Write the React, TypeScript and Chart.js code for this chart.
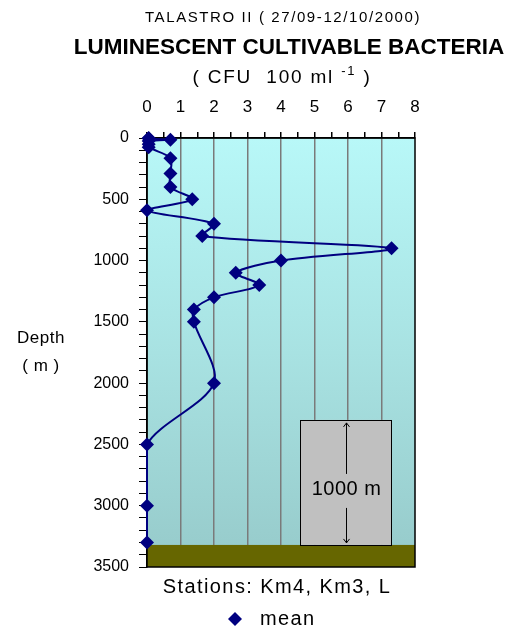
import React, { useEffect, useRef } from "react";
import { Chart, registerables } from "chart.js";

Chart.register(...registerables);

// ---- data ----
const depths = [0, 5, 15, 25, 50, 75, 165, 290, 400, 500, 590, 700, 800, 900, 1000, 1100, 1200, 1300, 1400, 1500, 2000, 2500, 3000, 3300];
const meanValues = [0.05, 0.05, 0.7, 0.05, 0.05, 0.05, 0.7, 0.7, 0.7, 1.35, 0, 2.0, 1.65, 7.3, 4.0, 2.65, 3.35, 2.0, 1.4, 1.4, 2.0, 0, 0, 0];
const xTickValues = [0, 1, 2, 3, 4, 5, 6, 7, 8];
const yTickValues = [0, 500, 1000, 1500, 2000, 2500, 3000, 3500];
const seafloorDepth = 3320;
const scaleBarDepths = [2300, 3320];
const scaleBarX = [4.57, 7.3];
const scaleBarLabel = "1000 m";
const seriesLabel = "mean";
const titleTop = "TALASTRO II ( 27/09-12/10/2000)";
const titleMain = "LUMINESCENT CULTIVABLE BACTERIA";
const unitsText = ["( CFU  100 ml ", "-1", " )"];
const yAxisTitle = ["Depth", "( m )"];
const xAxisNote = "Stations: Km4, Km3, L";

const FONT = "'Liberation Sans', Arial, sans-serif";
const NAVY = "#000080";

function spaced(ctx: any, px: number) {
  try {
    ctx.letterSpacing = `${px}px`;
  } catch (e) {}
}

const decorPlugin = {
  id: "decor",
  beforeDraw(chart: any) {
    const { ctx, chartArea: a } = chart;
    ctx.save();
    ctx.fillStyle = "#ffffff";
    ctx.fillRect(0, 0, chart.width, chart.height);
    const g = ctx.createLinearGradient(0, a.top, 0, a.bottom);
    g.addColorStop(0, "#b8f8f8");
    g.addColorStop(0.5, "#a8e2e2");
    g.addColorStop(1, "#96caca");
    ctx.fillStyle = g;
    ctx.fillRect(a.left, a.top, a.right - a.left, a.bottom - a.top);
    ctx.restore();
  },
  beforeDatasetsDraw(chart: any) {
    const { ctx, chartArea: a, scales } = chart;
    const xs = scales.x, ys = scales.y;
    ctx.save();
    // seafloor
    const fy = ys.getPixelForValue(seafloorDepth);
    ctx.fillStyle = "#666600";
    ctx.fillRect(a.left, fy, a.right - a.left, a.bottom - fy);
    // scale bar box
    const bx1 = xs.getPixelForValue(scaleBarX[0]);
    const bx2 = xs.getPixelForValue(scaleBarX[1]);
    const by1 = ys.getPixelForValue(scaleBarDepths[0]);
    const by2 = ys.getPixelForValue(scaleBarDepths[1]);
    ctx.fillStyle = "#c0c0c0";
    ctx.fillRect(bx1, by1, bx2 - bx1, by2 - by1);
    ctx.strokeStyle = "#000";
    ctx.lineWidth = 1;
    ctx.strokeRect(Math.round(bx1) + 0.5, Math.round(by1) + 0.5, Math.round(bx2 - bx1), Math.round(by2 - by1));
    const cx = Math.round((bx1 + bx2) / 2) + 0.5;
    const cy = by1 + (by2 - by1) * 0.56;
    ctx.font = `20px ${FONT}`;
    spaced(ctx, 0.5);
    ctx.fillStyle = "#000";
    ctx.textAlign = "center";
    ctx.textBaseline = "middle";
    ctx.fillText(scaleBarLabel, cx, cy);
    spaced(ctx, 0);
    ctx.beginPath();
    ctx.moveTo(cx, by1 + 3);
    ctx.lineTo(cx, cy - 16);
    ctx.moveTo(cx, cy + 18);
    ctx.lineTo(cx, by2 - 2);
    ctx.moveTo(cx - 3, by1 + 7);
    ctx.lineTo(cx, by1 + 3);
    ctx.lineTo(cx + 3, by1 + 7);
    ctx.moveTo(cx - 3, by2 - 6);
    ctx.lineTo(cx, by2 - 2);
    ctx.lineTo(cx + 3, by2 - 6);
    ctx.stroke();
    // chart area frame
    ctx.lineWidth = 1.5;
    ctx.strokeRect(a.left, a.top, a.right - a.left, a.bottom - a.top);
    ctx.restore();
  },
  afterDraw(chart: any) {
    const { ctx } = chart;
    ctx.save();
    ctx.fillStyle = "#000";
    ctx.textAlign = "center";
    ctx.textBaseline = "middle";
    ctx.font = `15px ${FONT}`;
    spaced(ctx, 1.6);
    ctx.fillText(titleTop, 283, 18);
    ctx.font = `bold 22.5px ${FONT}`;
    spaced(ctx, 0);
    ctx.fillText(titleMain, 289, 48);
    // units with superscript
    const big = `19px ${FONT}`, small = `13px ${FONT}`;
    spaced(ctx, 1.8);
    ctx.font = big;
    const w1 = ctx.measureText(unitsText[0]).width;
    const w3 = ctx.measureText(unitsText[2]).width;
    ctx.font = small;
    const w2 = ctx.measureText(unitsText[1]).width;
    let x = 282 - (w1 + w2 + w3) / 2;
    ctx.textAlign = "left";
    ctx.font = big;
    ctx.fillText(unitsText[0], x, 78);
    x += w1;
    ctx.font = small;
    ctx.fillText(unitsText[1], x, 71);
    x += w2;
    ctx.font = big;
    ctx.fillText(unitsText[2], x, 78);
    spaced(ctx, 0);
    // y-axis title
    ctx.textAlign = "center";
    ctx.font = `17px ${FONT}`;
    spaced(ctx, 0.5);
    ctx.fillText(yAxisTitle[0], 41, 338);
    ctx.fillText(yAxisTitle[1], 41, 366);
    // x note
    ctx.font = `20px ${FONT}`;
    spaced(ctx, 1.4);
    ctx.fillText(xAxisNote, 277, 587);
    // legend
    ctx.fillStyle = NAVY;
    ctx.beginPath();
    const lx = 235, ly = 619, r = 7;
    ctx.moveTo(lx, ly - r);
    ctx.lineTo(lx + r, ly);
    ctx.lineTo(lx, ly + r);
    ctx.lineTo(lx - r, ly);
    ctx.closePath();
    ctx.fill();
    ctx.fillStyle = "#000";
    ctx.textAlign = "left";
    ctx.fillText(seriesLabel, 260, 619);
    ctx.restore();
  },
};

export default function App() {
  const ref = useRef<HTMLCanvasElement | null>(null);
  useEffect(() => {
    document.body.style.margin = "0";
    const canvas = ref.current;
    if (!canvas) return;
    const data = depths.map((d, i) => ({ x: meanValues[i], y: d }));
    const chart = new Chart(canvas, {
      type: "scatter",
      data: {
        datasets: [
          {
            label: seriesLabel,
            data,
            showLine: true,
            tension: 0.3,
            borderColor: NAVY,
            borderWidth: 2,
            pointStyle: "rectRot",
            pointRadius: 7,
            pointBackgroundColor: NAVY,
            pointBorderColor: NAVY,
            pointBorderWidth: 0,
            clip: false as any,
          },
        ],
      },
      options: {
        animation: false,
        responsive: false,
        layout: { padding: { left: 0, top: 0, right: 91, bottom: 64 } },
        plugins: { legend: { display: false }, tooltip: { enabled: false }, title: { display: false } },
        scales: {
          x: {
            type: "linear",
            position: "top",
            min: 0,
            max: 8,
            afterBuildTicks: (s: any) => {
              const t: any[] = [];
              for (let i = 0; i < xTickValues.length; i++) {
                t.push({ value: xTickValues[i] });
                if (i < xTickValues.length - 1) t.push({ value: xTickValues[i] + 0.5 });
              }
              s.ticks = t;
            },
            ticks: {
              autoSkip: false,
              maxRotation: 0,
              padding: 14,
              color: "#000",
              font: { family: FONT, size: 17 },
              callback: (v: any) => (xTickValues.includes(Number(v)) ? String(v) : ""),
            },
            grid: {
              color: (c: any) =>
                c.tick && Number.isInteger(c.tick.value) && c.tick.value > 0 && c.tick.value < 8 ? "#7a7a7a" : "rgba(0,0,0,0)",
              lineWidth: 1.5,
              tickColor: "#000",
              tickLength: 6,
            },
            border: { display: true, color: "#000", width: 1.5 },
            afterFit: (s: any) => {
              s.height = 138;
            },
          },
          y: {
            type: "linear",
            reverse: true,
            min: 0,
            max: 3500,
            afterBuildTicks: (s: any) => {
              const t: any[] = [];
              for (let v = 0; v <= 3500; v += 100) t.push({ value: v });
              s.ticks = t;
            },
            ticks: {
              autoSkip: false,
              padding: 10,
              color: "#000",
              font: { family: FONT, size: 16 },
              callback: (v: any) => (yTickValues.includes(Number(v)) ? String(v) : ""),
            },
            grid: { drawOnChartArea: false, tickLength: 8, tickColor: "#000", lineWidth: 1 },
            border: { display: true, color: "#000", width: 1.5 },
            afterFit: (s: any) => {
              s.width = 147;
            },
          },
        },
      },
      plugins: [decorPlugin],
    });
    return () => chart.destroy();
  }, []);
  return (
    <div style={{ width: 506, height: 631 }}>
      <canvas ref={ref} width={506} height={631} style={{ display: "block" }} />
    </div>
  );
}
